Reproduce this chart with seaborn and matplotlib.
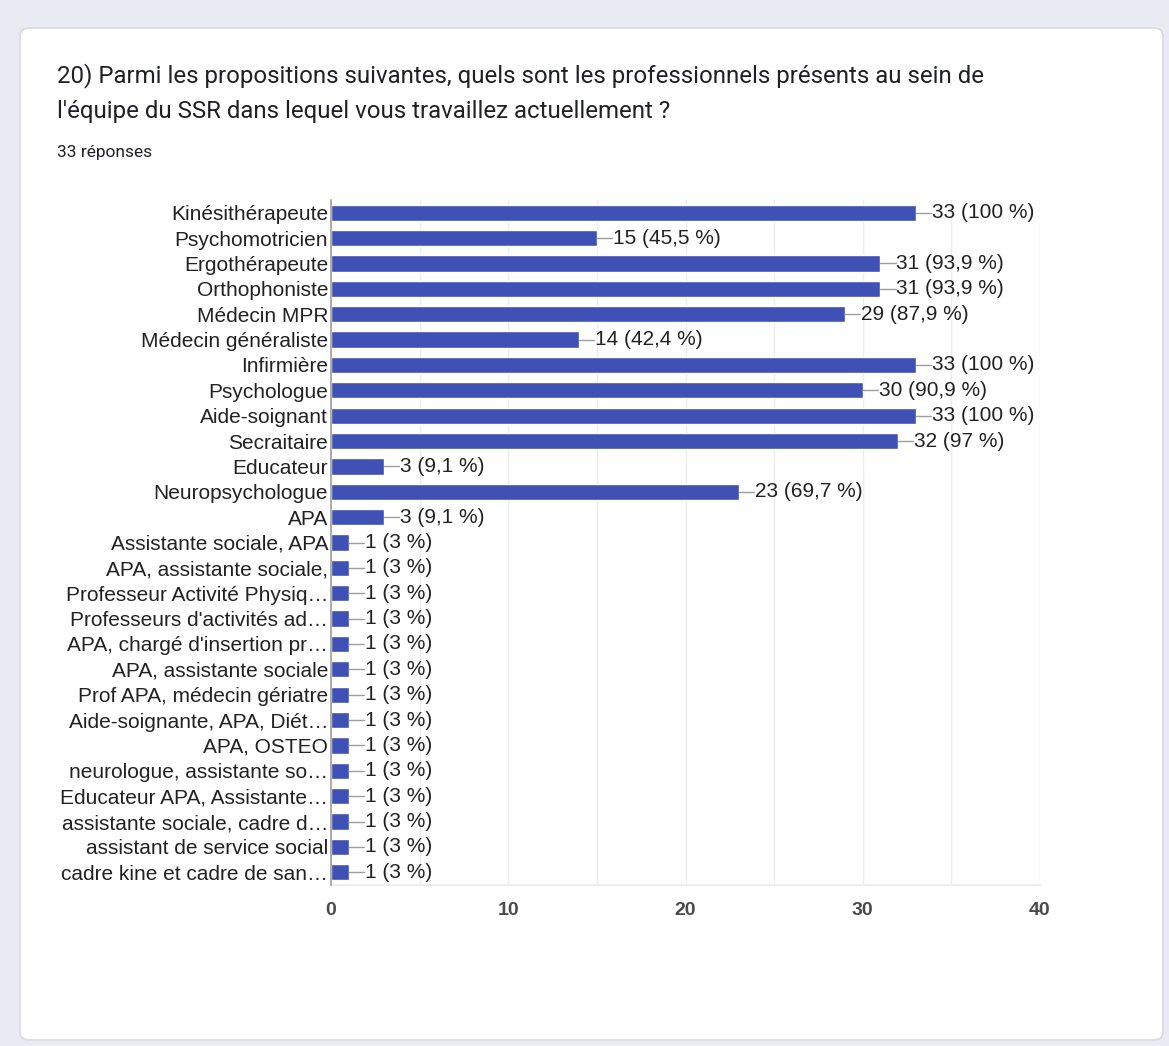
import seaborn as sns
import numpy as np
import matplotlib.pyplot as plt
from matplotlib.patches import FancyBboxPatch
from matplotlib.ticker import MultipleLocator

# data
professions = [
    "Kinésithérapeute", "Psychomotricien", "Ergothérapeute", "Orthophoniste",
    "Médecin MPR", "Médecin généraliste", "Infirmière", "Psychologue",
    "Aide-soignant", "Secraitaire", "Educateur", "Neuropsychologue", "APA",
    "Assistante sociale, APA", "APA, assistante sociale,",
    "Professeur Activité Physiq…", "Professeurs d'activités ad…",
    "APA, chargé d'insertion pr…", "APA, assistante sociale",
    "Prof APA, médecin gériatre", "Aide-soignante, APA, Diét…", "APA, OSTEO",
    "neurologue, assistante so…", "Educateur APA, Assistante…",
    "assistante sociale, cadre d…", "assistant de service social",
    "cadre kine et cadre de san…",
]
counts = [33, 15, 31, 31, 29, 14, 33, 30, 33, 32, 3, 23, 3,
          1, 1, 1, 1, 1, 1, 1, 1, 1, 1, 1, 1, 1, 1]
n_responses = 33
x_ticks = [0, 10, 20, 30, 40]

title = ("20) Parmi les propositions suivantes, quels sont les professionnels présents au sein de\n"
         "l'équipe du SSR dans lequel vous travaillez actuellement ?")
subtitle = f"{n_responses} réponses"


def pct_label(c, total):
    p = round(100 * c / total, 1)
    s = f"{p:.1f}".rstrip("0").rstrip(".").replace(".", ",")
    return f"{c} ({s} %)"


sns.set_theme(style="white")
plt.rcParams["font.family"] = ["Liberation Sans", "DejaVu Sans"]

fig = plt.figure(figsize=(11.69, 10.46), dpi=100)
fig.patch.set_facecolor("#e9ebf3")

# white card
card = FancyBboxPatch((20 / 1169, 1 - 1040 / 1046), 1143 / 1169, 1012 / 1046,
                      boxstyle="round,pad=0,rounding_size=0.008",
                      transform=fig.transFigure, facecolor="white",
                      edgecolor="#d8dbe4", linewidth=1.2, zorder=-5)
fig.patches.append(card)

fig.text(57 / 1169, 1 - 93 / 1046, title, fontsize=17.3, color="#202124",
         va="center", linespacing=1.66, family=["Roboto", "DejaVu Sans"])
fig.text(57 / 1169, 1 - 153 / 1046, subtitle, fontsize=12.5, color="#202124",
         va="center", family=["Roboto", "DejaVu Sans"])

ax = fig.add_axes([331 / 1169, 1 - 885 / 1046, 709 / 1169, 685 / 1046])
ax.set_zorder(2)
ax.set_facecolor("white")

sns.barplot(x=counts, y=professions, orient="h", color="#3f51b5",
            saturation=1, width=0.64, ax=ax, zorder=3)

for i, c in enumerate(counts):
    ax.plot([c, c + 0.85], [i, i], color="#9e9e9e", lw=1, zorder=3)
    ax.text(c + 0.9, i, pct_label(c, n_responses), va="center", ha="left",
            fontsize=15, color="#222222", zorder=4)

ax.set_xlim(0, 40)
ax.set_ylim(len(counts) - 0.5, -0.5)
ax.set_xticks(x_ticks)
ax.xaxis.set_minor_locator(MultipleLocator(5))
ax.grid(axis="x", which="both", color="#ececec", lw=1, zorder=0)
ax.tick_params(axis="x", which="both", length=0, pad=12, labelsize=14,
               labelcolor="#4a4a4a")
ax.tick_params(axis="y", length=0, pad=2, labelsize=15, labelcolor="#222222")
for lab in ax.get_xticklabels():
    lab.set_fontweight("bold")
ax.set_xlabel("")
ax.set_ylabel("")
for side in ["top", "right"]:
    ax.spines[side].set_visible(False)
ax.spines["bottom"].set_color("#ececec")
ax.spines["left"].set_color("#9e9e9e")
ax.spines["left"].set_linewidth(1.2)
ax.spines["left"].set_zorder(5)

fig.savefig("out.png", dpi=100, facecolor=fig.get_facecolor())
